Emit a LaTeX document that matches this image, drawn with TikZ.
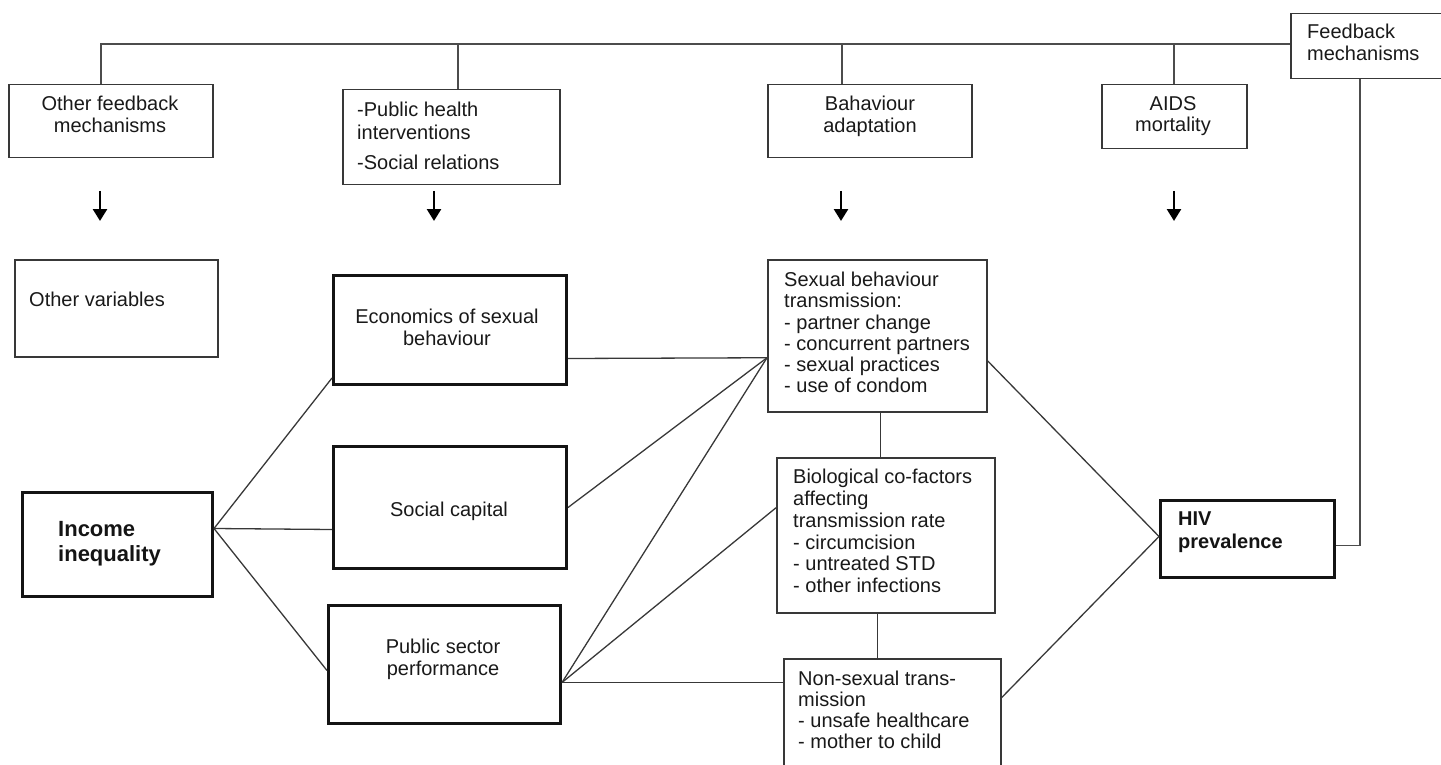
\documentclass[tikz,border=0pt]{standalone}
\usepackage{fontspec}
\setmainfont{Liberation Sans}
\usetikzlibrary{arrows.meta}
\begin{document}
\begin{tikzpicture}[x=1pt,y=-1pt,
 nbox/.style={draw=black!78,line width=1.5pt,anchor=north west,inner sep=0pt},
 tbox/.style={draw=black!92,line width=3pt,anchor=north west,inner sep=0pt},
 txt/.style={inner sep=0pt,font=\fontsize{20}{21.5}\selectfont,text=black!90},
 btxt/.style={inner sep=0pt,font=\fontsize{22}{25}\selectfont\bfseries,text=black!92},
 conn/.style={draw=black!78,line width=1.3pt},
 tline/.style={draw=black!70,line width=1.8pt},
 arr/.style={draw=black,line width=2.6pt,-{Triangle[width=14pt,length=12pt]}}
]
\useasboundingbox (0,0) rectangle (1441,765);
\clip (0,0) rectangle (1441,765);

% top row boxes
\node[nbox,minimum width=204pt,minimum height=73pt] (ofm) at (8,84) {};
\node[nbox,minimum width=217pt,minimum height=95pt] (ph) at (342,89) {};
\node[nbox,minimum width=204pt,minimum height=73pt] (ba) at (767,84) {};
\node[nbox,minimum width=145pt,minimum height=64pt] (aids) at (1101,84) {};
\node[nbox,minimum width=155pt,minimum height=65pt] (fb) at (1290,13) {};

\node[txt,align=center,anchor=north] (ofm-t) at (110,96) {Other feedback\\mechanisms};
\node[txt,align=left,anchor=north west,font=\fontsize{20}{22.5}\selectfont] (ph-t) at (357,102) {-Public health\\interventions\\[8pt]-Social relations};
\node[txt,align=center,anchor=north] (ba-t) at (870,96) {Bahaviour\\adaptation};
\node[txt,align=center,anchor=north] (aids-t) at (1173,96) {AIDS\\mortality};
\node[txt,align=left,anchor=north west,font=\fontsize{20}{22}\selectfont] (fb-t) at (1307,24) {Feedback\\mechanisms};

% middle boxes
\node[nbox,minimum width=203pt,minimum height=97pt] (ov) at (14,259) {};
\node[txt,anchor=north west] (ov-t) at (29,292) {Other variables};

\node[tbox,minimum width=190pt,minimum height=104pt] (inc) at (21,491) {};
\node[btxt,align=left,anchor=north west] (inc-t) at (58,521) {Income\\inequality};

\node[tbox,minimum width=233pt,minimum height=109pt] (econ) at (332,274) {};
\node[txt,align=center,anchor=north] (econ-t) at (447,309) {Economics of sexual\\behaviour};

\node[tbox,minimum width=233pt,minimum height=122pt] (soc) at (332,445) {};
\node[txt,anchor=north] (soc-t) at (449,502) {Social capital};

\node[tbox,minimum width=232pt,minimum height=118pt] (pub) at (327,604) {};
\node[txt,align=center,anchor=north] (pub-t) at (443,639) {Public sector\\performance};

\node[nbox,minimum width=219pt,minimum height=152pt] (sex) at (767,259) {};
\node[txt,align=left,anchor=north west,font=\fontsize{20}{21.2}\selectfont] (sex-t) at (784,272) {Sexual behaviour\\transmission:\\- partner change\\- concurrent partners\\- sexual practices\\- use of condom};

\node[nbox,minimum width=218pt,minimum height=155pt] (bio) at (776,457) {};
\node[txt,align=left,anchor=north west,font=\fontsize{20}{21.8}\selectfont] (bio-t) at (793,469) {Biological co-factors\\affecting\\transmission rate\\- circumcision\\- untreated STD\\- other infections};

\node[nbox,minimum width=217pt,minimum height=140pt] (ns) at (783,658) {};
\node[txt,align=left,anchor=north west,font=\fontsize{20}{21}\selectfont] (ns-t) at (798,671) {Non-sexual trans-\\mission\\- unsafe healthcare\\- mother to child};

\node[tbox,minimum width=174pt,minimum height=77pt] (hiv) at (1159,499) {};
\node[btxt,align=left,anchor=north west,font=\fontsize{20}{23}\selectfont\bfseries] (hiv-t) at (1178,512) {HIV\\prevalence};

% connection points
\coordinate (topl) at ([yshift=2.5pt]fb.west);
\coordinate (ofmn) at ([xshift=-10pt]ofm.north);
\coordinate (phn) at ([xshift=6.5pt]ph.north);
\coordinate (ban) at ([xshift=-28pt]ba.north);
\coordinate (aidsn) at (aids.north);
\coordinate (fbb) at ([xshift=-8.5pt]fb.south);
\coordinate (incp) at ([yshift=16pt]inc.east);
\coordinate (econa) at ([yshift=8pt]econ.south west);
\coordinate (econb) at ([yshift=-28.5pt]econ.east);
\coordinate (soca) at ([yshift=-22pt]soc.west);
\coordinate (puba) at ([yshift=-6pt]pub.west);
\coordinate (pubb) at ([yshift=-18pt]pub.east);
\coordinate (sexa) at ([yshift=-22pt]sex.west);
\coordinate (sexb) at ([yshift=-25pt]sex.east);
\coordinate (sexc) at ([xshift=3.5pt]sex.south);
\coordinate (bioa) at ([yshift=27.5pt]bio.west);
\coordinate (biob) at ([xshift=-8pt]bio.south);
\coordinate (nsa) at ([yshift=31pt]ns.east);
\coordinate (hiva) at ([yshift=2.5pt]hiv.west);
\coordinate (hivb) at ([yshift=-6.5pt]hiv.east);

% top feedback tree
\draw[tline] (topl) -| (ofmn);
\draw[tline] (phn) -- (phn |- topl);
\draw[tline] (ban) -- (ban |- topl);
\draw[tline] (aidsn) -- (aidsn |- topl);
\draw[tline] (fbb) |- (hivb);

% arrows
\coordinate (ar1) at (100,191);
\coordinate (ar2) at (434,191);
\coordinate (ar3) at (841,191);
\coordinate (ar4) at (1174,191);
\draw[arr] (ar1) -- ++(0,30);
\draw[arr] (ar2) -- ++(0,30);
\draw[arr] (ar3) -- ++(0,30);
\draw[arr] (ar4) -- ++(0,30);

% connectors
\draw[conn] (incp) -- (econa);
\draw[conn] (incp) -- (soca);
\draw[conn] (incp) -- (puba);
\draw[conn] (econb) -- (sexa);
\draw[conn] (soc.east) -- (sexa);
\draw[conn] (pubb) -- (sexa);
\draw[conn] (pubb) -- (bioa);
\draw[conn] (pubb) -- (pubb -| ns.west);
\draw[conn] (sexc) -- (sexc |- bio.north);
\draw[conn] (biob) -- (biob |- ns.north);
\draw[conn] (sexb) -- (hiva);
\draw[conn] (nsa) -- (hiva);
\end{tikzpicture}
\end{document}
